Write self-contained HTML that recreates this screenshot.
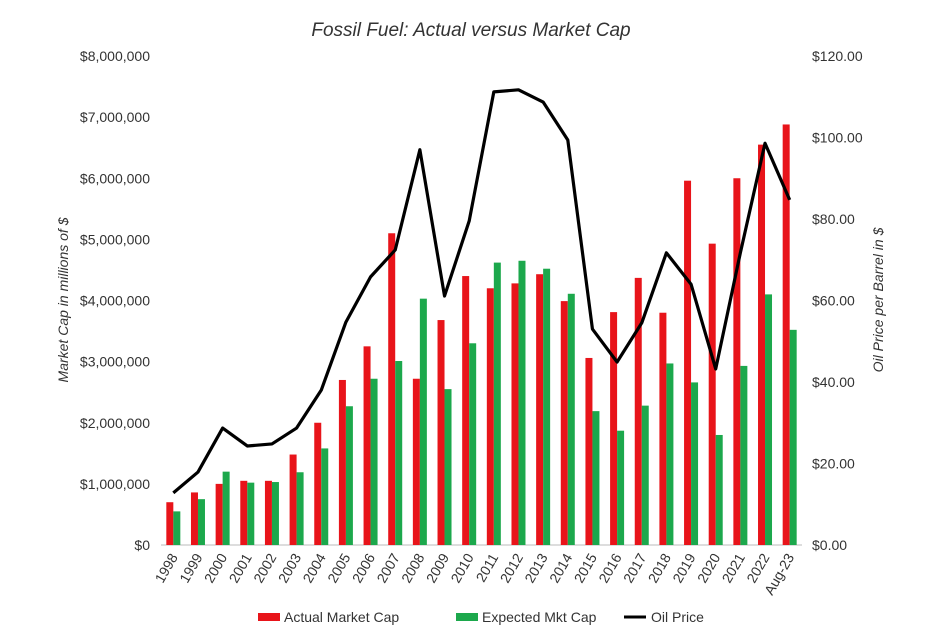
<!DOCTYPE html>
<html><head><meta charset="utf-8"><style>
body{margin:0;background:#fff;font-family:"Liberation Sans",Arial,sans-serif}
svg text{font-family:"Liberation Sans",Arial,sans-serif;fill:#333}
</style></head><body>
<svg id="chart" width="943" height="639" viewBox="0 0 943 639" xmlns="http://www.w3.org/2000/svg">
<text x="471" y="36" font-size="19" font-style="italic" text-anchor="middle" fill="#444">Fossil Fuel: Actual versus Market Cap</text>
<text transform="translate(68,300) rotate(-90)" font-size="14" font-style="italic" text-anchor="middle">Market Cap in millions of $</text>
<text transform="translate(883,300) rotate(-90)" font-size="14" font-style="italic" text-anchor="middle">Oil Price per Barrel in $</text>
<g id="leftTicks"></g>
<g id="rightTicks"></g>
<g id="bars"></g>
<g id="xlabels"></g>
<g id="lineG"></g>
<g>
<g><rect x="258" y="613" width="22" height="8" fill="#e8141a"/><text x="284" y="622" font-size="14">Actual Market Cap</text></g>
<g><rect x="456" y="613" width="22" height="8" fill="#1ca84c"/><text x="482" y="622" font-size="14">Expected Mkt Cap</text></g>
<g><line x1="624" y1="617" x2="646" y2="617" stroke="#000" stroke-width="3"/><text x="651" y="622" font-size="14">Oil Price</text></g>
</g>
</svg>
<script>
const categories=["1998","1999","2000","2001","2002","2003","2004","2005","2006","2007","2008","2009","2010","2011","2012","2013","2014","2015","2016","2017","2018","2019","2020","2021","2022","Aug-23"];
const actualCap=[700000,860000,1000000,1050000,1050000,1480000,2000000,2700000,3250000,5100000,2720000,3680000,4400000,4200000,4280000,4430000,3990000,3060000,3810000,4370000,3800000,5960000,4930000,6000000,6550000,6880000];
const expectedCap=[550000,750000,1200000,1020000,1030000,1190000,1580000,2270000,2720000,3010000,4030000,2550000,3300000,4620000,4650000,4520000,4110000,2190000,1870000,2280000,2970000,2660000,1800000,2930000,4100000,3520000];
const oilPrice=[12.8,17.9,28.7,24.3,24.8,28.7,38,54.7,65.8,72.4,97,61.1,79.5,111.2,111.7,108.7,99.4,53,44.9,54.5,71.7,64,43.2,71.7,98.6,84.7];
const leftTickValues=[0,1000000,2000000,3000000,4000000,5000000,6000000,7000000,8000000];
const rightTickValues=[0,20,40,60,80,100,120];
const NS="http://www.w3.org/2000/svg";
const top0=56,bot=545,x0=161,x1=802;
const yL=v=>bot-(v/8000000)*(bot-top0);
const yR=v=>bot-(v/120)*(bot-top0);
const step=(x1-x0)/categories.length;
const xc=i=>x0+step*(i+0.5);
function mk(tag,attrs,parent){const e=document.createElementNS(NS,tag);for(const k in attrs)e.setAttribute(k,attrs[k]);parent.appendChild(e);return e;}
const lt=document.getElementById('leftTicks');
leftTickValues.forEach(v=>{const t=mk('text',{x:150,y:yL(v)+5,'font-size':14,'text-anchor':'end'},lt);


t.textContent='$'+v.toLocaleString('en-US');});
const rt=document.getElementById('rightTicks');
rightTickValues.forEach(v=>{const t=mk('text',{x:812,y:yR(v)+5,'font-size':14},rt);


t.textContent='$'+v.toFixed(2);});
mk('line',{x1:x0,y1:bot,x2:x1,y2:bot,stroke:'#bbb','stroke-width':1},lt);
const bg=document.getElementById('bars');const bw=7;
categories.forEach((c,i)=>{
const r=mk('rect',{x:xc(i)-bw,y:yL(actualCap[i]),width:bw,height:bot-yL(actualCap[i]),fill:'#e8141a'},bg);


const g=mk('rect',{x:xc(i),y:yL(expectedCap[i]),width:bw,height:bot-yL(expectedCap[i]),fill:'#1ca84c'},bg);


});
const xl=document.getElementById('xlabels');
categories.forEach((c,i)=>{const t=mk('text',{transform:`translate(${xc(i)+5},${bot+12}) rotate(-60)`,'font-size':14,'text-anchor':'end'},xl);


t.textContent=c;});
const pts=oilPrice.map((v,i)=>xc(i)+','+yR(v)).join(' ');
const pl=mk('polyline',{points:pts,fill:'none',stroke:'#000','stroke-width':3.2,'stroke-linejoin':'round'},document.getElementById('lineG'));


</script>
</body></html>
